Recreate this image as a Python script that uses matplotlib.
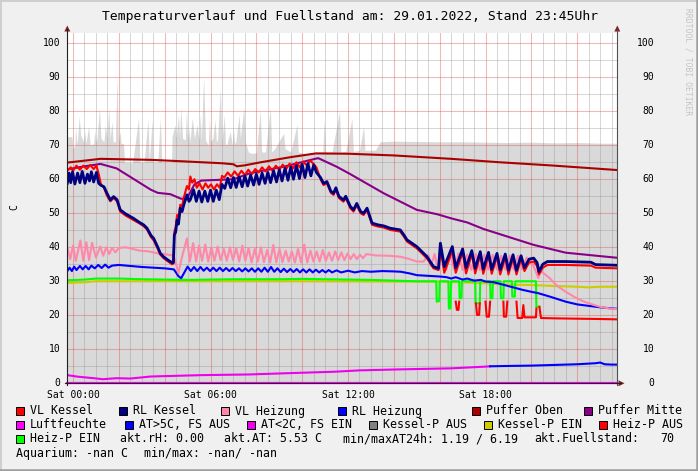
import matplotlib
matplotlib.use("Agg")
import matplotlib.pyplot as plt
import numpy as np
from matplotlib.patches import Rectangle, Polygon
from matplotlib.lines import Line2D
from matplotlib.transforms import blended_transform_factory

# ---------------- data (hours since Sat 00:00, values in C) ----------------
TITLE = "Temperaturverlauf und Fuellstand am: 29.01.2022, Stand 23:45Uhr"
X_RANGE = (-0.25, 23.75)
Y_RANGE = (0, 103)
X_TICKS = [0, 6, 12, 18]
X_TICK_LABELS = ["Sat 00:00", "Sat 06:00", "Sat 12:00", "Sat 18:00"]
Y_TICKS = [0, 10, 20, 30, 40, 50, 60, 70, 80, 90, 100]

FUELL = [(-0.25, 72.5), (-0.05, 72.5), (0.0, 69), (0.08, 70), (0.12, 75.5), (0.16, 70.5), (0.2, 72),
         (0.27, 78.6), (0.33, 73), (0.45, 71), (0.52, 74), (0.56, 70.5), (0.68, 75.5), (0.75, 70),
         (0.9, 70.5), (0.95, 74.5), (1.0, 71), (1.05, 72), (1.15, 80.9), (1.22, 72), (1.35, 71),
         (1.41, 76), (1.48, 72), (1.56, 80.9), (1.62, 72), (1.7, 77), (1.75, 71), (1.85, 71),
         (1.92, 90.2), (1.98, 71), (2.05, 74), (2.1, 70.5), (2.2, 70.5), (2.25, 65), (2.6, 64.8),
         (2.86, 78), (2.92, 65), (3.1, 65), (3.27, 77.5), (3.33, 65), (3.45, 77.5), (3.5, 65),
         (3.7, 65), (3.81, 78), (3.87, 65), (4.1, 65), (4.3, 65), (4.32, 72.5), (4.45, 76),
         (4.5, 72), (4.6, 79), (4.65, 72), (4.7, 81.3), (4.78, 72), (4.9, 71.6), (4.95, 80.5),
         (5.0, 71.5), (5.05, 75), (5.1, 71), (5.2, 78), (5.3, 72), (5.41, 76), (5.5, 71.5),
         (5.55, 79), (5.6, 71.5), (5.7, 90.2), (5.78, 71.5), (5.9, 70), (5.95, 78), (6.0, 71),
         (6.1, 72), (6.2, 77.5), (6.25, 71.5), (6.3, 71), (6.43, 86.6), (6.5, 71), (6.6, 79),
         (6.65, 70.5), (6.7, 70), (6.86, 74), (6.95, 70), (7.0, 75), (7.05, 70.5), (7.1, 71),
         (7.25, 79), (7.3, 72), (7.45, 80.9), (7.52, 71), (7.65, 68), (7.8, 67.6), (8.0, 67.8),
         (8.17, 80.4), (8.23, 68), (8.4, 68), (8.61, 81.0), (8.67, 68), (8.8, 69), (9.19, 73.5),
         (9.25, 69), (9.5, 68), (9.77, 76), (9.83, 68), (10.06, 67.6), (10.5, 67.6), (10.9, 67.8),
         (10.96, 77.4), (11.02, 68), (11.3, 68), (11.63, 79.9), (11.69, 68), (11.9, 68.2),
         (12.17, 77.9), (12.23, 68.2), (12.5, 68.5), (12.68, 75.5), (12.74, 68.5), (13.2, 68.6),
         (13.4, 71.0), (14.0, 71.2), (15.0, 71.1), (16.0, 71.0), (17.0, 71.0), (18.0, 70.9),
         (19.0, 70.8), (20.0, 70.9), (21.0, 70.7), (22.0, 70.8), (23.0, 70.6), (23.75, 70.6)]

PUFFER_OBEN = [(-0.25, 64.9), (1.2, 66.0), (3.4, 65.7), (4.7, 65.3), (6.5, 64.7), (7.0, 64.4),
               (7.15, 63.8), (7.5, 64.1), (8.2, 65.0), (9.5, 66.5), (10.6, 67.6), (12.0, 67.5),
               (14.0, 67.0), (16.5, 66.0), (18.6, 65.0), (21.0, 64.0), (23.75, 62.7)]

PUFFER_MITTE = [(-0.25, 62.9), (0.5, 63.8), (1.2, 64.5), (1.9, 63.2), (2.9, 59.0), (3.4, 56.9),
                (3.7, 56.0), (4.25, 55.6), (4.7, 54.3), (4.95, 54.1), (5.3, 58.5), (5.6, 59.6),
                (7.0, 60.0), (7.74, 61.8), (9.2, 63.7), (10.5, 65.9), (10.7, 66.2), (11.5, 63.7),
                (12.1, 61.5), (13.55, 55.9), (15.0, 51.0), (15.9, 49.7), (16.5, 48.5), (17.2, 47.3),
                (17.9, 45.4), (20.1, 40.7), (21.5, 38.4), (23.75, 36.9)]

RL_KESSEL = [(-0.25, 58.8), (-0.17, 61.8), (-0.1, 59.0), (-0.02, 62.2), (0.08, 58.6), (0.2, 61.8),
             (0.3, 59.0), (0.4, 62.3), (0.52, 58.8), (0.63, 61.5), (0.72, 59.5), (0.8, 62.2),
             (0.9, 59.2), (1.02, 62.0), (1.12, 58.8), (1.22, 58.2), (1.35, 57.8), (1.48, 55.9),
             (1.63, 53.9), (1.77, 54.9), (1.92, 54.0), (2.06, 51.0), (2.3, 49.8), (2.64, 48.5),
             (2.9, 47.3), (3.08, 46.6), (3.23, 45.6), (3.4, 43.5), (3.52, 42.6), (3.7, 40.0),
             (3.81, 38.2), (3.95, 37.2), (4.15, 36.2), (4.32, 35.5), (4.38, 35.5), (4.42, 43.6),
             (4.48, 44.5), (4.54, 48.0), (4.6, 46.8), (4.68, 51.5), (4.76, 50.5), (4.83, 52.4),
             (4.97, 55.4), (5.06, 53.5), (5.12, 54.0), (5.26, 56.9), (5.38, 53.5), (5.5, 56.5),
             (5.62, 53.3), (5.75, 56.5), (5.88, 53.5), (6.0, 56.8), (6.12, 53.5), (6.25, 56.8),
             (6.38, 54.0), (6.5, 58.5), (6.62, 57.3), (6.75, 60.3), (6.88, 57.5), (7.0, 60.5),
             (7.12, 57.6), (7.25, 60.7), (7.38, 57.8), (7.5, 61.0), (7.62, 58.0), (7.75, 61.2),
             (7.88, 58.3), (8.0, 61.5), (8.12, 58.5), (8.25, 61.8), (8.38, 58.8), (8.5, 62.0),
             (8.62, 59.0), (8.75, 62.5), (8.88, 59.2), (9.0, 62.8), (9.12, 59.5), (9.25, 63.2),
             (9.38, 59.7), (9.5, 63.6), (9.62, 60.0), (9.75, 64.0), (9.88, 60.2), (10.0, 64.4),
             (10.12, 60.5), (10.25, 64.6), (10.38, 61.0), (10.5, 64.2), (10.62, 62.0), (10.8, 60.5),
             (10.93, 58.8), (11.08, 59.3), (11.25, 56.5), (11.37, 55.9), (11.47, 57.5), (11.6, 55.0),
             (11.8, 53.9), (11.9, 55.0), (12.1, 52.0), (12.24, 51.0), (12.38, 52.9), (12.55, 50.5),
             (12.68, 50.0), (12.83, 51.5), (13.05, 47.1), (13.3, 46.6), (13.55, 46.3), (13.84, 45.6),
             (14.28, 45.1), (14.45, 43.5), (14.57, 42.2), (15.0, 40.2), (15.45, 37.2), (15.73, 34.3),
             (15.95, 33.8), (16.03, 41.2), (16.2, 34.3), (16.55, 40.2), (16.7, 34.0), (17.0, 39.5),
             (17.15, 34.0), (17.4, 39.0), (17.55, 33.8), (17.77, 38.7), (17.9, 33.6), (18.13, 38.5),
             (18.27, 33.5), (18.5, 38.2), (18.64, 33.4), (18.86, 38.0), (19.0, 33.3), (19.2, 37.8),
             (19.35, 33.2), (19.55, 37.5), (19.7, 34.0), (19.9, 36.5), (20.1, 36.8), (20.25, 35.5),
             (20.33, 32.8), (20.5, 35.0), (20.7, 35.8), (21.5, 35.8), (22.6, 35.6), (22.8, 34.9),
             (23.75, 34.7)]

VL_KESSEL = [(-0.25, 62.5), (-0.1, 63.5), (0.0, 62.5), (0.15, 64.0), (0.3, 62.8), (0.45, 64.0),
             (0.6, 63.0), (0.75, 64.2), (0.9, 63.0), (1.02, 64.0), (1.12, 61.5), (1.22, 58.5),
             (1.35, 57.5), (1.48, 55.2), (1.63, 53.5), (1.77, 54.5), (1.92, 53.5), (2.06, 50.5),
             (2.3, 49.3), (2.64, 48.0), (2.9, 47.0), (3.08, 46.2), (3.23, 45.2), (3.4, 43.0),
             (3.52, 42.0), (3.7, 39.5), (3.81, 37.8), (3.95, 36.8), (4.15, 35.8), (4.32, 35.0),
             (4.38, 35.2), (4.42, 44.5), (4.48, 46.0), (4.54, 49.5), (4.6, 48.5), (4.68, 52.5),
             (4.76, 52.0), (4.83, 54.5), (4.97, 58.0), (5.06, 57.0), (5.12, 60.8), (5.2, 59.0),
             (5.3, 60.0), (5.4, 57.5), (5.52, 58.8), (5.65, 57.0), (5.78, 58.8), (5.9, 57.5),
             (6.02, 58.5), (6.15, 57.0), (6.28, 58.5), (6.4, 57.5), (6.5, 61.0), (6.6, 60.5),
             (6.75, 62.0), (6.9, 60.8), (7.05, 62.3), (7.2, 61.0), (7.35, 62.5), (7.5, 61.2),
             (7.65, 62.8), (7.8, 61.5), (7.95, 63.0), (8.1, 62.0), (8.25, 63.5), (8.4, 62.3),
             (8.55, 63.8), (8.7, 62.5), (8.85, 64.0), (9.0, 62.8), (9.15, 64.3), (9.3, 63.0),
             (9.45, 64.6), (9.6, 63.2), (9.75, 65.0), (9.9, 63.5), (10.05, 65.2), (10.2, 64.0),
             (10.35, 65.5), (10.5, 64.5), (10.62, 63.5), (10.8, 60.0), (10.93, 58.3), (11.08, 58.8),
             (11.25, 56.0), (11.37, 55.4), (11.47, 57.0), (11.6, 54.5), (11.8, 53.4), (11.9, 54.5),
             (12.1, 51.5), (12.24, 50.5), (12.38, 52.4), (12.55, 50.0), (12.68, 49.5), (12.83, 51.0),
             (13.05, 46.6), (13.3, 46.1), (13.55, 45.8), (13.84, 45.1), (14.28, 44.6), (14.45, 43.0),
             (14.57, 41.7), (15.0, 39.7), (15.45, 36.7), (15.73, 33.8), (15.95, 33.3), (16.03, 40.0),
             (16.2, 32.5), (16.55, 39.0), (16.7, 32.5), (17.0, 38.5), (17.15, 32.3), (17.4, 38.0),
             (17.55, 32.3), (17.77, 37.7), (17.9, 32.2), (18.13, 37.5), (18.27, 32.2), (18.5, 37.2),
             (18.64, 32.0), (18.86, 37.0), (19.0, 32.0), (19.2, 36.8), (19.35, 32.0), (19.55, 36.5),
             (19.7, 33.0), (19.9, 35.5), (20.1, 35.8), (20.25, 34.5), (20.33, 32.0), (20.5, 34.0),
             (20.7, 34.8), (21.5, 34.8), (22.6, 34.6), (22.8, 34.0), (23.75, 33.8)]

VL_HEIZUNG = [(-0.25, 40.0), (-0.12, 36.5), (0.0, 40.5), (0.12, 36.0), (0.32, 42.0), (0.45, 36.0),
              (0.58, 41.5), (0.7, 36.2), (0.83, 41.3), (1.0, 37.0), (1.19, 40.2), (1.32, 37.5),
              (1.45, 40.0), (1.58, 38.0), (1.7, 39.8), (1.85, 38.5), (2.0, 39.8), (2.3, 40.0),
              (2.6, 39.5), (2.9, 39.0), (3.3, 38.8), (3.7, 38.2), (4.0, 38.0), (4.4, 37.5),
              (4.6, 32.4), (4.75, 37.0), (4.97, 42.6), (5.1, 35.8), (5.24, 41.2), (5.37, 35.8),
              (5.5, 40.5), (5.63, 36.0), (5.77, 40.8), (5.9, 35.8), (6.04, 40.0), (6.17, 36.0),
              (6.31, 40.2), (6.44, 36.2), (6.58, 39.5), (6.71, 36.0), (6.85, 40.0), (6.98, 36.2),
              (7.12, 39.8), (7.25, 35.8), (7.39, 40.5), (7.52, 36.0), (7.66, 39.8), (7.79, 35.5),
              (7.93, 39.5), (8.06, 35.8), (8.2, 40.0), (8.33, 35.6), (8.47, 39.2), (8.6, 35.5),
              (8.74, 40.7), (8.87, 35.5), (9.01, 39.5), (9.14, 35.6), (9.28, 39.0), (9.41, 35.8),
              (9.55, 38.8), (9.68, 35.5), (9.82, 39.5), (9.95, 35.5), (10.09, 40.8), (10.22, 35.5),
              (10.36, 39.0), (10.49, 35.8), (10.63, 38.8), (10.76, 35.8), (10.9, 39.2), (11.03, 36.0),
              (11.17, 38.5), (11.3, 36.0), (11.44, 38.8), (11.57, 36.2), (11.71, 38.5), (11.84, 36.2),
              (11.98, 38.2), (12.11, 36.5), (12.25, 38.0), (12.38, 36.5), (12.52, 37.8), (12.65, 36.8),
              (12.8, 38.0), (13.2, 37.6), (13.8, 37.5), (14.3, 37.2), (14.7, 36.5), (15.0, 35.8),
              (15.3, 35.8), (15.5, 37.8), (15.62, 34.5), (15.78, 38.0), (15.92, 33.5), (16.1, 38.2),
              (16.28, 33.4), (16.45, 38.0), (16.65, 33.3), (16.82, 38.2), (17.0, 33.3), (17.2, 37.8),
              (17.38, 33.3), (17.58, 38.0), (17.75, 33.3), (17.95, 37.8), (18.12, 33.4), (18.32, 37.8),
              (18.5, 33.5), (18.68, 37.5), (18.86, 33.5), (19.05, 37.5), (19.22, 33.5), (19.42, 37.5),
              (19.6, 33.5), (19.8, 37.0), (20.1, 34.5), (20.3, 31.0), (20.4, 33.0), (20.6, 32.0),
              (20.8, 30.9), (21.1, 28.8), (21.5, 26.9), (21.9, 25.3), (22.3, 24.0), (22.7, 23.1),
              (23.0, 22.5), (23.4, 22.0), (23.75, 21.8)]

RL_HEIZUNG = [(-0.25, 33.0), (-0.15, 34.0), (-0.05, 33.0), (0.05, 34.3), (0.15, 33.3), (0.3, 34.5),
              (0.42, 33.5), (0.55, 34.5), (0.68, 33.5), (0.8, 34.6), (0.95, 33.8), (1.1, 34.8),
              (1.25, 33.9), (1.4, 34.9), (1.55, 34.0), (1.7, 34.6), (2.0, 34.8), (2.5, 34.5),
              (3.0, 34.2), (3.5, 34.0), (4.0, 33.8), (4.4, 33.5), (4.6, 31.5), (4.72, 30.9),
              (4.85, 32.5), (5.0, 34.3), (5.14, 33.0), (5.28, 34.2), (5.42, 33.0), (5.56, 34.2),
              (5.7, 33.1), (5.84, 34.0), (5.98, 33.0), (6.12, 34.0), (6.26, 33.0), (6.4, 34.0),
              (6.54, 33.0), (6.68, 33.9), (6.82, 33.0), (6.96, 33.9), (7.1, 33.0), (7.24, 33.8),
              (7.38, 32.9), (7.52, 33.8), (7.66, 32.9), (7.8, 33.8), (7.94, 32.8), (8.08, 33.8),
              (8.22, 32.8), (8.36, 34.0), (8.5, 32.8), (8.64, 34.2), (8.78, 32.8), (8.92, 33.8),
              (9.06, 32.7), (9.2, 33.7), (9.34, 32.7), (9.48, 33.6), (9.62, 32.7), (9.76, 33.6),
              (9.9, 32.6), (10.04, 33.5), (10.18, 32.6), (10.32, 33.5), (10.46, 32.6), (10.6, 33.4),
              (10.74, 32.6), (10.88, 33.3), (11.02, 32.6), (11.16, 33.3), (11.3, 32.6), (11.5, 33.2),
              (11.7, 32.6), (12.0, 33.1), (12.3, 32.6), (12.6, 33.0), (13.0, 32.8), (13.5, 33.0),
              (14.0, 32.9), (14.3, 32.8), (14.7, 32.3), (15.0, 31.8), (15.5, 31.6), (16.0, 31.4),
              (16.3, 31.2), (16.5, 30.8), (16.7, 31.2), (17.0, 30.5), (17.2, 30.8), (17.5, 30.2),
              (17.8, 30.4), (18.0, 29.9), (18.3, 29.8), (18.6, 29.3), (19.1, 28.4), (19.6, 27.5),
              (20.0, 26.9), (20.3, 26.5), (20.8, 25.5), (21.5, 24.0), (22.0, 23.2), (22.7, 22.6),
              (23.2, 22.2), (23.75, 21.9)]

KESSEL_P_EIN = [(-0.25, 29.5), (0.5, 29.7), (1.0, 30.0), (3.0, 30.0), (6.0, 30.0), (10.0, 30.0),
                (14.0, 29.9), (16.0, 29.9), (17.0, 29.7), (18.0, 29.4), (19.0, 29.0), (20.0, 28.9),
                (21.0, 28.6), (22.0, 28.4), (22.5, 28.2), (23.0, 28.4), (23.75, 28.4)]

NAN = float("nan")
HEIZ_P_EIN = [(-0.25, 30.3), (0.5, 30.5), (1.0, 30.8), (2.0, 30.8), (3.0, 30.6), (4.0, 30.5),
              (5.0, 30.4), (6.0, 30.5), (7.0, 30.6), (8.0, 30.6), (9.0, 30.6), (10.0, 30.7),
              (11.0, 30.6), (12.0, 30.5), (13.0, 30.4), (14.0, 30.2), (15.0, 30.0), (15.85, 30.0),
              (15.87, 24.0), (15.98, 24.2), (16.0, 30.0), (16.38, 30.0), (16.4, 22.0), (16.47, 22.0),
              (16.5, 30.0), (16.85, 30.0), (16.87, 25.0), (16.95, 25.0), (16.97, 30.0), (17.55, 30.0),
              (17.57, 23.5), (17.75, 23.5), (17.77, 30.0), (18.2, 30.0), (18.22, 25.0), (18.3, 25.0),
              (18.32, 30.0), (18.65, 30.0), (18.67, 25.0), (18.78, 25.0), (18.8, 30.0), (19.15, 30.0),
              (19.17, 25.5), (19.28, 25.5), (19.3, 30.0), (20.2, 30.0), (20.22, 22.5), (20.35, 22.5)]

HEIZ_P_AUS = [(16.7, 24.0), (16.75, 21.6), (16.82, 21.6), (16.85, 24.0), (16.86, NAN),
              (17.58, 23.5), (17.63, 20.1), (17.72, 20.1), (17.75, 23.5), (17.76, NAN),
              (18.0, 24.0), (18.05, 19.6), (18.15, 19.6), (18.2, 24.0), (18.21, NAN),
              (18.78, 24.0), (18.8, 19.6), (18.9, 19.6), (18.95, 24.0), (18.96, NAN),
              (19.35, 24.0), (19.4, 19.2), (19.6, 19.2), (19.65, 23.0), (19.7, 19.4), (20.2, 19.4),
              (20.22, 22.0), (20.25, NAN), (20.35, 22.5), (20.42, 19.2), (21.0, 19.1), (22.0, 19.0),
              (23.0, 18.9), (23.75, 18.8)]

AUSSENTEMP = [(-0.25, 2.4), (0.2, 1.95), (0.9, 1.5), (1.3, 1.2), (1.9, 1.5), (2.5, 1.4), (3.4, 2.0),
              (4.5, 2.2), (5.6, 2.4), (7.7, 2.6), (9.5, 3.0), (11.4, 3.4), (12.5, 3.8), (14.3, 4.1),
              (16.5, 4.4), (18.0, 4.9), (18.2, 5.0), (19.0, 5.1), (20.0, 5.2), (21.0, 5.4),
              (22.0, 5.6), (22.8, 5.9), (23.0, 6.1), (23.2, 5.6), (23.5, 5.5), (23.75, 5.5)]
FS_SWITCH_HOUR = 18.2
LUFTFEUCHTE = [(-0.25, 0.0), (23.75, 0.0)]

LEGEND_ROWS = [
    [("VL Kessel", "#FF0000"), ("RL Kessel", "#000080"), ("VL Heizung", "#FF88AA"),
     ("RL Heizung", "#0000FF"), ("Puffer Oben", "#AA0000"), ("Puffer Mitte", "#880088")],
    [("Luftfeuchte", "#FF00FF"), ("AT>5C, FS AUS", "#0000FF"), ("AT<2C, FS EIN", "#EE00EE"),
     ("Kessel-P AUS", "#808080"), ("Kessel-P EIN", "#CCCC00"), ("Heiz-P AUS", "#FF0000")],
]
STATUS_TEXTS = ["akt.rH: 0.00", "akt.AT: 5.53 C", "min/maxAT24h: 1.19 / 6.19", "akt.Fuellstand:", "70"]
AQUA_TEXTS = ["Aquarium: -nan C", "min/max: -nan/ -nan"]

# ---------------- layout ----------------
W, H = 698, 471
MONO = "DejaVu Sans Mono"
fig = plt.figure(figsize=(W / 100, H / 100), dpi=100, facecolor="#F0F0F0")

def fx(px):
    return px / W

def fy(py):
    return 1 - py / H

X0, X1, YT, YB = 67.3, 617.3, 33.0, 383.3
ax = fig.add_axes([fx(X0), fy(YB), (X1 - X0) / W, (YB - YT) / H])
ax.set_xlim(*X_RANGE)
ax.set_ylim(*Y_RANGE)
ax.set_facecolor("white")
for s in ax.spines.values():
    s.set_visible(False)
ax.set_xticks([])
ax.set_yticks([])

def unzip(pairs):
    t = np.array([p[0] for p in pairs], dtype=float)
    v = np.array([p[1] for p in pairs], dtype=float)
    return t, v

# area
ft, fv = unzip(FUELL)
ax.fill_between(ft, 0, fv, color="#D9D9D9", lw=0, zorder=1)

# grid
minor_col = (0.56, 0.56, 0.56, 0.35)
major_col = (0.87, 0.31, 0.31, 0.40)
for h in np.arange(0, 24, 0.5):
    if h > X_RANGE[1]:
        continue
    major = (h % 2 == 0)
    ax.axvline(h, color=major_col if major else minor_col, lw=0.75, zorder=1.5)
for v in range(5, 101, 5):
    ax.axhline(v, color=major_col if v % 10 == 0 else minor_col, lw=0.75, zorder=1.5)

LW = 1.5
def plot_series(pairs, color, lw=LW, z=3):
    t, v = unzip(pairs)
    ax.plot(t, v, color=color, lw=lw, zorder=z, solid_joinstyle="round")

plot_series(KESSEL_P_EIN, "#CCCC00", z=3)
plot_series(HEIZ_P_EIN, "#00FF00", z=3.1)
plot_series(HEIZ_P_AUS, "#FF0000", z=3.1)
plot_series(RL_HEIZUNG, "#0000FF", z=3.2)
plot_series(VL_HEIZUNG, "#FF88AA", z=3.3)
plot_series(PUFFER_MITTE, "#880088", z=3.4)
plot_series(PUFFER_OBEN, "#AA0000", z=3.5)
plot_series(VL_KESSEL, "#FF0000", z=3.6)
plot_series(RL_KESSEL, "#000080", lw=2.0, z=3.7)

at_t, at_v = unzip(AUSSENTEMP)
cold = at_t <= FS_SWITCH_HOUR
warm = at_t >= FS_SWITCH_HOUR
ax.plot(at_t[cold], at_v[cold], color="#EE00EE", lw=LW, zorder=3.5)
ax.plot(at_t[warm], at_v[warm], color="#0000FF", lw=LW, zorder=3.5)

# axis lines and arrows (figure pixel coords)
axis_col = "#202020"
fig.add_artist(Line2D([fx(X0), fx(X0)], [fy(YB + 2), fy(29)], color=axis_col, lw=0.8))
fig.add_artist(Line2D([fx(X1), fx(X1)], [fy(YB + 2), fy(29)], color="#505050", lw=0.8))
fig.add_artist(Line2D([fx(X0 - 2), fx(621)], [fy(YB), fy(YB)], color=axis_col, lw=0.8))
lt, lv = unzip(LUFTFEUCHTE)
ax.plot(lt, lv, color="#FF00FF", lw=1.6, zorder=5, clip_on=False)
arrow_col = "#802020"
for xa in (X0, X1):
    fig.add_artist(Polygon([(fx(xa - 3), fy(31.5)), (fx(xa + 3), fy(31.5)), (fx(xa), fy(25.5))],
                           closed=True, color=arrow_col, lw=0))
fig.add_artist(Polygon([(fx(618.5), fy(YB - 3)), (fx(618.5), fy(YB + 3)), (fx(624.5), fy(YB))],
                       closed=True, color=arrow_col, lw=0))

# tick labels
ytr_fig = blended_transform_factory(fig.transFigure, ax.transData)
for v in Y_TICKS:
    fig.text(fx(60.5), v, str(v), transform=ytr_fig, ha="right", va="center",
             family=MONO, fontsize=7, color="black")
    fig.text(fx(654.5), v, str(v), transform=ytr_fig, ha="right", va="center",
             family=MONO, fontsize=7, color="black")
xtr_fig = blended_transform_factory(ax.transData, fig.transFigure)
for h, lab in zip(X_TICKS, X_TICK_LABELS):
    fig.text(h, fy(394.5), lab, transform=xtr_fig, ha="center", va="center",
             family=MONO, fontsize=7, color="black")

fig.text(fx(14), fy(207), "C", rotation=90, ha="center", va="center", family=MONO, fontsize=7)

# title and watermark
fig.text(fx(350), fy(16.5), TITLE, ha="center", va="center", family=MONO, fontsize=9.4)
fig.text(fx(688), fy(62), "RRDTOOL / TOBI OETIKER", rotation=270, ha="center", va="center",
         family=MONO, fontsize=5.8, color="#C4C4C4")

# legend
LEG_FS = 8.4
box_x = [[16, 119, 221, 338, 472, 584], [16, 125, 247, 369, 484, 599]]
row_y = [411, 425, 439, 453]
for r, row in enumerate(LEGEND_ROWS):
    for (label, col), bx in zip(row, box_x[r]):
        fig.add_artist(Rectangle((fx(bx), fy(row_y[r] + 4)), 8 / W, 8 / H, facecolor=col,
                                 edgecolor="black", lw=0.7, transform=fig.transFigure))
        fig.text(fx(bx + 14), fy(row_y[r]), label, ha="left", va="center", family=MONO, fontsize=LEG_FS)
fig.add_artist(Rectangle((fx(16), fy(row_y[2] + 4)), 8 / W, 8 / H, facecolor="#00FF00",
                         edgecolor="black", lw=0.7, transform=fig.transFigure))
fig.text(fx(30), fy(row_y[2]), "Heiz-P EIN", ha="left", va="center", family=MONO, fontsize=LEG_FS)
for txt, xp in zip(STATUS_TEXTS, [120, 224, 343, 534, 660]):
    fig.text(fx(xp), fy(row_y[2]), txt, ha="left", va="center", family=MONO, fontsize=LEG_FS)
for txt, xp in zip(AQUA_TEXTS, [16, 144]):
    fig.text(fx(xp), fy(row_y[3]), txt, ha="left", va="center", family=MONO, fontsize=LEG_FS)

# 3D frame
fig.add_artist(Line2D([0, 1], [fy(0.5), fy(0.5)], color="#CFCFCF", lw=1.4))
fig.add_artist(Line2D([fx(0.5), fx(0.5)], [0, 1], color="#CFCFCF", lw=1.4))
fig.add_artist(Line2D([0, 1], [fy(H - 1), fy(H - 1)], color="#9E9E9E", lw=1.8))
fig.add_artist(Line2D([fx(W - 1), fx(W - 1)], [0, 1], color="#9E9E9E", lw=1.8))

fig.savefig("out.png", dpi=100, facecolor=fig.get_facecolor())
